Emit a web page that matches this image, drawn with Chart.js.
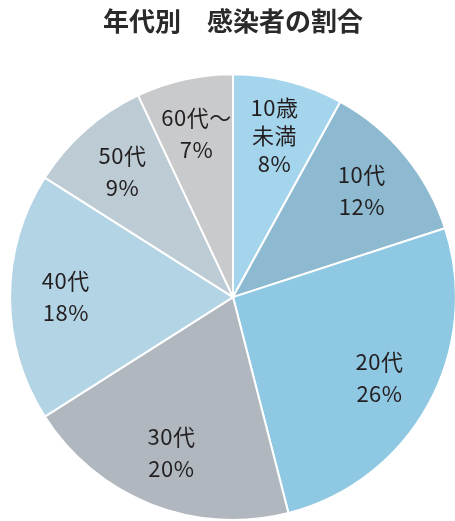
<!DOCTYPE html>
<html>
<head>
<meta charset="utf-8">
<script src="https://cdn.jsdelivr.net/npm/chart.js@4"></script>
<style>
  html, body { margin: 0; padding: 0; background: #fff; overflow: hidden; }
  #wrap { width: 460px; height: 521px; position: relative; }
</style>
</head>
<body>
<div id="wrap"><canvas id="c"></canvas></div>
<script>
const titleText = '年代別\u3000感染者の割合';
const categories = ['10歳\n未満', '10代', '20代', '30代', '40代', '50代', '60代～'];
const shares = [8, 12, 26, 20, 18, 9, 7];
const sliceColors = ['#a4d5ec', '#8dbad0', '#8fc8e3', '#b0b7be', '#b3d4e4', '#bccbd4', '#c9cacc'];

const labelFont = '400 22px "Noto Sans CJK JP", "Noto Sans", sans-serif';

const sliceLabels = {
  id: 'sliceLabels',
  afterDatasetsDraw(chart) {
    const ctx = chart.ctx;
    const meta = chart.getDatasetMeta(0);
    ctx.save();
    ctx.font = labelFont;
    try { ctx.letterSpacing = '0.5px'; } catch (e) {}
    ctx.fillStyle = '#231f20';
    ctx.textAlign = 'center';
    ctx.textBaseline = 'middle';
    meta.data.forEach((arc, i) => {
      const p = arc.getProps(['x', 'y', 'startAngle', 'endAngle', 'outerRadius'], true);
      const mid = (p.startAngle + p.endAngle) / 2;
      const r = p.outerRadius * 0.75;
      const cx = p.x + Math.cos(mid) * r;
      const cy = p.y + Math.sin(mid) * r;
      const lines = categories[i].split('\n').concat([shares[i] + '%']);
      const lh = lines.length > 2 ? 28 : 32;
      const top = cy - (lines.length - 1) * lh / 2;
      lines.forEach((t, k) => ctx.fillText(t, cx, top + k * lh));
    });
    ctx.restore();
  }
};

new Chart(document.getElementById('c'), {
  type: 'pie',
  data: {
    labels: categories,
    datasets: [{
      data: shares,
      backgroundColor: sliceColors,
      borderColor: '#ffffff',
      borderWidth: 2
    }]
  },
  options: {
    responsive: true,
    maintainAspectRatio: false,
    animation: false,
    layout: { padding: { left: 9, right: 3, top: 0, bottom: 0 } },
    plugins: {
      legend: { display: false },
      tooltip: { enabled: false },
      title: {
        display: true,
        text: titleText,
        color: '#2a2a2a',
        font: { family: '"Noto Sans CJK JP", "Noto Sans", sans-serif', size: 26, weight: 'bold', lineHeight: 1.2 },
        padding: { top: 6, bottom: 36 }
      }
    }
  },
  plugins: [sliceLabels]
});
</script>
</body>
</html>
